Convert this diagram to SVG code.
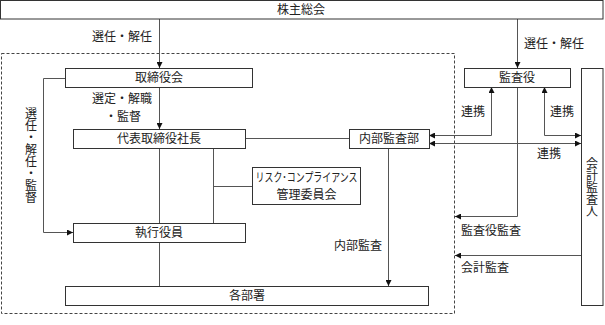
<svg xmlns="http://www.w3.org/2000/svg" width="605" height="325" viewBox="0 0 605 325">
<style>
.box{fill:#fff;stroke:#333;stroke-width:1}
.ln{fill:none;stroke:#555;stroke-width:1}
text{font-family:"Noto Sans CJK JP","Noto Sans",sans-serif;font-size:12px;fill:#222;text-anchor:middle}
.vt{writing-mode:vertical-rl;text-anchor:start}
</style>
<defs>
<marker id="ah" viewBox="0 0 10 10" refX="10" refY="5" markerWidth="6" markerHeight="6" orient="auto-start-reverse" markerUnits="userSpaceOnUse">
<path d="M0,0 L10,5 L0,10 Z" fill="#111"/>
</marker>
</defs>
<rect width="605" height="325" fill="#fff"/>
<rect x="1.5" y="53.5" width="453" height="260" fill="none" stroke="#444" stroke-dasharray="3,2"/>

<g id="connectors">
<line class="ln" x1="159.5" y1="19" x2="159.5" y2="68" marker-end="url(#ah)"/>
<line class="ln" x1="159.5" y1="87" x2="159.5" y2="129" marker-end="url(#ah)"/>
<polyline class="ln" points="65,78.5 43.5,78.5 43.5,232.5 73,232.5" marker-end="url(#ah)"/>
<line class="ln" x1="159.5" y1="148" x2="159.5" y2="223"/>
<line class="ln" x1="213.5" y1="148" x2="213.5" y2="223"/>
<line class="ln" x1="213.5" y1="186.5" x2="252" y2="186.5"/>
<line class="ln" x1="159.5" y1="242" x2="159.5" y2="286"/>
<line class="ln" x1="245" y1="138.5" x2="349" y2="138.5"/>
<line class="ln" x1="388.5" y1="148" x2="388.5" y2="286" marker-end="url(#ah)"/>
<line class="ln" x1="517.5" y1="19" x2="517.5" y2="68" marker-end="url(#ah)"/>
<polyline class="ln" points="491.5,87 491.5,135.5 429,135.5" marker-start="url(#ah)" marker-end="url(#ah)"/>
<polyline class="ln" points="544.5,87 544.5,135.5 581,135.5" marker-start="url(#ah)" marker-end="url(#ah)"/>
<line class="ln" x1="429" y1="143.5" x2="581" y2="143.5" marker-start="url(#ah)" marker-end="url(#ah)"/>
<polyline class="ln" points="517.5,87 517.5,216.5 455,216.5" marker-end="url(#ah)"/>
<line class="ln" x1="581" y1="255.5" x2="455" y2="255.5" marker-end="url(#ah)"/>
</g>

<g id="labels">
<text x="122" y="41">選任・解任</text>
<text x="122" y="103">選定・解職</text>
<text x="123" y="121">・監督</text>
<text x="358" y="250">内部監査</text>
<text x="554" y="48">選任・解任</text>
<text x="473" y="116">連携</text>
<text x="562" y="116">連携</text>
<text x="549" y="158">連携</text>
<text x="491" y="235">監査役監査</text>
<text x="485" y="272">会計監査</text>
<text class="vt" x="31" y="107">選任・解任・監督</text>
</g>

<g id="n-shareholders"><rect class="box" x="0.5" y="0.5" width="602.5" height="18.5"/><text x="301" y="14">株主総会</text></g>
<g id="n-board"><rect class="box" x="65.5" y="68.5" width="187" height="19"/><text x="159" y="82">取締役会</text></g>
<g id="n-president"><rect class="box" x="73.5" y="129.5" width="172" height="19"/><text x="159" y="143">代表取締役社長</text></g>
<g id="n-risk"><rect class="box" x="252.5" y="167.5" width="108" height="37"/><text x="306.5" y="182" font-size="10.5" textLength="102" lengthAdjust="spacingAndGlyphs">リスク･コンプライアンス</text><text x="306.5" y="199">管理委員会</text></g>
<g id="n-officers"><rect class="box" x="73.5" y="223.5" width="172" height="19"/><text x="159" y="237">執行役員</text></g>
<g id="n-depts"><rect class="box" x="65.5" y="286.5" width="363" height="19"/><text x="247" y="300">各部署</text></g>
<g id="n-internal-audit"><rect class="box" x="349.5" y="129.5" width="80" height="19"/><text x="389" y="143">内部監査部</text></g>
<g id="n-auditors"><rect class="box" x="464.5" y="68.5" width="106" height="19"/><text x="517" y="82">監査役</text></g>
<g id="n-accounting-auditor"><rect class="box" x="581.5" y="68.5" width="21.5" height="237"/>
<text class="vt" x="592" y="157">会計監査人</text></g>
</svg>
